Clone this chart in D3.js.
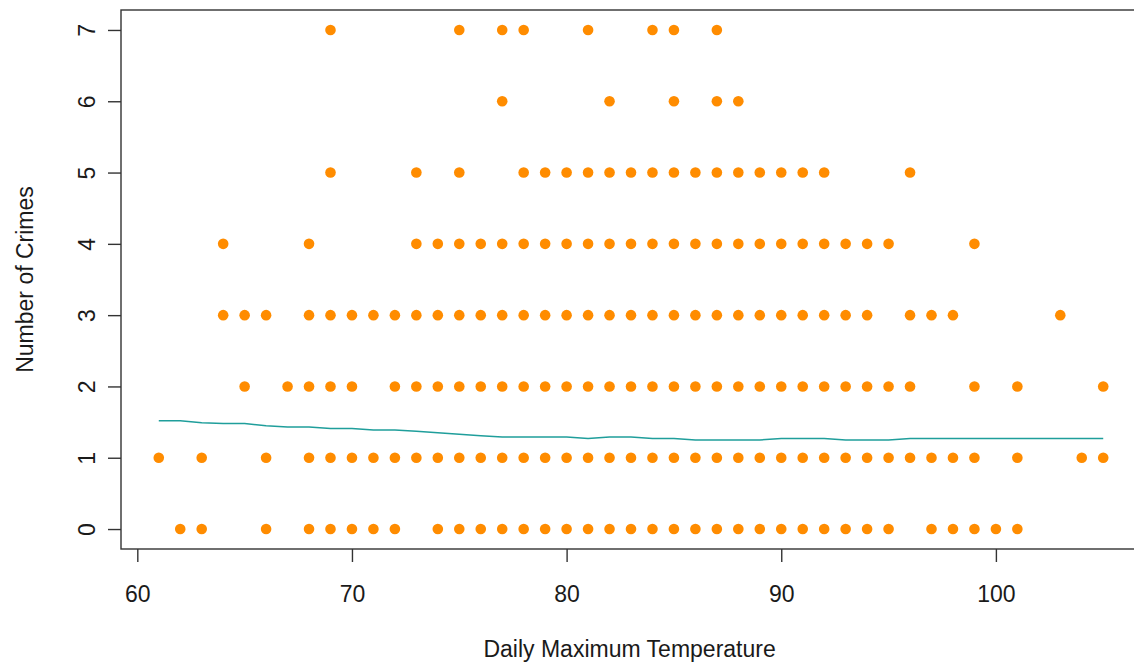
<!DOCTYPE html>
<html>
<head>
<meta charset="utf-8">
<script src="https://cdn.jsdelivr.net/npm/d3@7"></script>
<style>
  body { margin: 0; background: #fff; }
  text { font-family: "Liberation Sans", Arial, sans-serif; fill: #1a1a1a; }
</style>
</head>
<body>
<script>
// temperatures (deg F) of the days, one array per number of crimes
var temps0 = [62,63,66,68,69,70,71,72,74,75,76,77,78,79,80,81,82,83,84,85,86,87,88,89,90,91,92,93,94,95,97,98,99,100,101];
var temps1 = [61,63,66,68,69,70,71,72,73,74,75,76,77,78,79,80,81,82,83,84,85,86,87,88,89,90,91,92,93,94,95,96,97,98,99,101,104,105];
var temps2 = [65,67,68,69,70,72,73,74,75,76,77,78,79,80,81,82,83,84,85,86,87,88,89,90,91,92,93,94,95,96,99,101,105];
var temps3 = [64,65,66,68,69,70,71,72,73,74,75,76,77,78,79,80,81,82,83,84,85,86,87,88,89,90,91,92,93,94,96,97,98,103];
var temps4 = [64,68,73,74,75,76,77,78,79,80,81,82,83,84,85,86,87,88,89,90,91,92,93,94,95,99];
var temps5 = [69,73,75,78,79,80,81,82,83,84,85,86,87,88,89,90,91,92,96];
var temps6 = [77,82,85,87,88];
var temps7 = [69,75,77,78,81,84,85,87];
var crimeCounts = [0, 1, 2, 3, 4, 5, 6, 7];

// fitted line
var fitTemps = [61,62,63,64,65,66,67,68,69,70,71,72,73,74,75,76,77,78,79,80,81,82,83,84,85,86,87,88,89,90,91,92,93,94,95,96,97,98,99,100,101,102,103,104,105];
var fitValues = [1.52,1.52,1.49,1.48,1.48,1.45,1.43,1.43,1.41,1.41,1.39,1.39,1.37,1.35,1.33,1.31,1.29,1.29,1.29,1.29,1.27,1.29,1.29,1.27,1.27,1.25,1.25,1.25,1.25,1.27,1.27,1.27,1.25,1.25,1.25,1.27,1.27,1.27,1.27,1.27,1.27,1.27,1.27,1.27,1.27];

var xTicks = [60, 70, 80, 90, 100];
var yTicks = [0, 1, 2, 3, 4, 5, 6, 7];

var width = 1134, height = 664;
var plot = {left: 121, right: 1141, top: 10, bottom: 549};

// build point table
var tempLists = [temps0, temps1, temps2, temps3, temps4, temps5, temps6, temps7];
var points = [];
tempLists.forEach(function(list, i) {
    list.forEach(function(t) { points.push({temp: t, crimes: crimeCounts[i]}); });
});

// R style 4% padding of the data range
var xExt = d3.extent(points, function(d) { return d.temp; }),
    yExt = d3.extent(points, function(d) { return d.crimes; });
var xPad = (xExt[1] - xExt[0]) * 0.04,
    yPad = (yExt[1] - yExt[0]) * 0.04;

var x = d3.scaleLinear().domain([xExt[0] - xPad, xExt[1] + xPad]).range([plot.left, plot.right]);
var y = d3.scaleLinear().domain([yExt[0] - yPad, yExt[1] + yPad]).range([plot.bottom, plot.top]);

var svg = d3.select('body').append('svg')
    .attr('width', width)
    .attr('height', height);

svg.append('rect').attr('width', width).attr('height', height).attr('fill', '#fff');

// points
svg.append('g').selectAll('circle')
    .data(points)
    .enter()
    .append('circle')
    .attr('cx', function(d) { return x(d.temp); })
    .attr('cy', function(d) { return y(d.crimes); })
    .attr('r', 5.3)
    .attr('fill', '#ff8c00');

// fitted line
var fit = fitTemps.map(function(t, i) { return {temp: t, v: fitValues[i]}; });
svg.append('path')
    .datum(fit)
    .attr('fill', 'none')
    .attr('stroke', '#1f9e9b')
    .attr('stroke-width', 1.5)
    .attr('d', d3.line()
        .x(function(d) { return x(d.temp); })
        .y(function(d) { return y(d.v); }));

// box
svg.append('rect')
    .attr('x', plot.left)
    .attr('y', plot.top)
    .attr('width', plot.right - plot.left)
    .attr('height', plot.bottom - plot.top)
    .attr('fill', 'none')
    .attr('stroke', '#333')
    .attr('stroke-width', 1.4);

// x axis
var xAxis = svg.append('g')
    .attr('transform', 'translate(0,' + plot.bottom + ')')
    .call(d3.axisBottom(x).tickValues(xTicks).tickSize(13).tickPadding(24).tickSizeOuter(0));
xAxis.select('.domain').remove();
xAxis.selectAll('line').attr('stroke', '#333').attr('stroke-width', 1.4);
xAxis.selectAll('text').style('font-size', '23px').attr('fill', '#1a1a1a');

// y axis
var yAxis = svg.append('g')
    .attr('transform', 'translate(' + plot.left + ',0)')
    .call(d3.axisLeft(y).tickValues(yTicks).tickSize(13).tickSizeOuter(0));
yAxis.select('.domain').remove();
yAxis.selectAll('line').attr('stroke', '#333').attr('stroke-width', 1.4);
yAxis.selectAll('text')
    .style('font-size', '23px')
    .attr('fill', '#1a1a1a')
    .attr('text-anchor', 'middle')
    .attr('dy', null)
    .attr('x', null)
    .attr('transform', function(d) { return 'translate(-34,0) rotate(-90)'; })
    .attr('dominant-baseline', 'central');

// axis titles
svg.append('text')
    .attr('x', (x(60) + x(100)) / 2 + 63)
    .attr('y', 657)
    .attr('text-anchor', 'middle')
    .style('font-size', '23px')
    .text('Daily Maximum Temperature');

svg.append('text')
    .attr('transform', 'translate(25,' + (plot.top + plot.bottom) / 2 + ') rotate(-90)')
    .attr('text-anchor', 'middle')
    .attr('dominant-baseline', 'central')
    .style('font-size', '23px')
    .text('Number of Crimes');
</script>
</body>
</html>
